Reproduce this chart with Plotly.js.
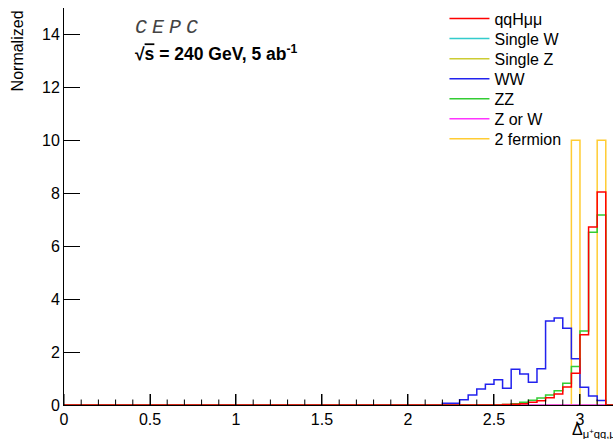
<!DOCTYPE html>
<html>
<head>
<meta charset="utf-8">
<script src="https://cdn.plot.ly/plotly-3.0.1.min.js"></script>
<style>html,body{margin:0;padding:0;background:#fff;overflow:hidden}</style>
</head>
<body>
<div id="chart" style="width:613px;height:439px"></div>
<script>
// Histogram bins: 64 bins of width 0.05 from 0 to 3.2
const binWidth = 0.05;
const seriesNames = ["qqHμμ", "Single W", "Single Z", "WW", "ZZ", "Z or W", "2 fermion"];

const qqHmumu = [0,0,0,0,0,0,0,0,0,0, 0,0,0,0,0,0,0,0,0,0, 0,0,0,0,0,0,0,0,0,0,
  0,0,0,0,0,0,0,0,0,0, 0,0,0,0,0,0,0,0,0,0, 0,0.02,0.03,0.05,0.1,0.16,0.27,0.42,0.68,1.2,
  2.65,6.73,8.05,0];
const singleW = [0,0,0,0,0,0,0,0,0,0, 0,0,0,0,0,0,0,0,0,0, 0,0,0,0,0,0,0,0,0,0,
  0,0,0,0,0,0,0,0,0,0, 0,0,0,0,0,0,0,0,0,0, 0,0,0,0,0,0,0,0,0,0, 0,0,0,0];
const singleZ = [0,0,0,0,0,0,0,0,0,0, 0,0,0,0,0,0,0,0,0,0, 0,0,0,0,0,0,0,0,0,0,
  0,0,0,0,0,0,0,0,0,0, 0,0,0,0,0,0,0,0,0,0, 0,0,0,0,0,0,0,0,0,0, 0,0,0,0];
const WW = [0,0,0,0,0,0,0,0,0,0, 0,0,0,0,0,0,0,0,0,0, 0,0,0,0,0,0,0,0,0,0,
  0,0,0,0,0,0,0,0,0,0, 0,0,0,0,0.07,0.07,0.2,0.38,0.6,0.78, 0.95,0.63,1.35,1.17,0.86,1.37,3.17,3.29,2.9,1.75,
  0.67,0.34,0.17,0];
const ZZ = [0,0,0,0,0,0,0,0,0,0, 0,0,0,0,0,0,0,0,0,0, 0,0,0,0,0,0,0,0,0,0,
  0,0,0,0,0,0,0,0,0,0, 0,0,0,0,0,0,0,0,0,0, 0,0.02,0.05,0.1,0.18,0.26,0.38,0.54,0.82,1.45,
  2.8,6.53,7.18,0];
const ZorW = [0,0,0,0,0,0,0,0,0,0, 0,0,0,0,0,0,0,0,0,0, 0,0,0,0,0,0,0,0,0,0,
  0,0,0,0,0,0,0,0,0,0, 0,0,0,0,0,0,0,0,0,0, 0,0,0,0,0,0,0,0,0,0, 0,0,0,0];
const twoFermion = [0,0,0,0,0,0,0,0,0,0, 0,0,0,0,0,0,0,0,0,0, 0,0,0,0,0,0,0,0,0,0,
  0,0,0,0,0,0,0,0,0,0, 0,0,0,0,0,0,0,0,0,0, 0,0,0,0,0,0,0,0,0,10,
  0,0,10,0];

const xTickVals = [0, 0.5, 1, 1.5, 2, 2.5, 3];
const xTickText = ["0", "0.5", "1", "1.5", "2", "2.5", "3"];
const xMinorTickVals = [0.1, 0.2, 0.3, 0.4, 0.6, 0.7, 0.8, 0.9, 1.1, 1.2, 1.3, 1.4, 1.6, 1.7, 1.8, 1.9,
  2.1, 2.2, 2.3, 2.4, 2.6, 2.7, 2.8, 2.9, 3.1];
const yTickVals = [0, 2, 4, 6, 8, 10, 12, 14];
const yTickText = ["0", "2", "4", "6", "8", "10", "12", "14"];

const xRange = [0, 3.192];
const yRange = [0, 15];

const legendFont = {family: "Liberation Sans, Arial, sans-serif", size: 16, color: "#000"};
const legendRowTop = 1.016;
const legendRowStep = 0.0505;

function stepTrace(vals, name, color, row) {
  const x = [], y = [];
  for (let i = 0; i < vals.length; i++) { x.push(i * binWidth); y.push(vals[i]); }
  x.push(vals.length * binWidth); y.push(vals[vals.length - 1]);
  return {
    type: "scatter", mode: "lines", x: x, y: y, name: name,
    line: {shape: "hv", color: color, width: 1.5},
    legend: row === 0 ? "legend" : "legend" + (row + 1),
    hoverinfo: "skip"
  };
}

const traces = [
  stepTrace(twoFermion, seriesNames[6], "#ffcc33", 6),
  stepTrace(singleW, seriesNames[1], "#33cccc", 1),
  stepTrace(singleZ, seriesNames[2], "#cccc33", 2),
  stepTrace(ZorW, seriesNames[5], "#ff33ff", 5),
  stepTrace(WW, seriesNames[3], "#2222ee", 3),
  stepTrace(ZZ, seriesNames[4], "#33cc33", 4),
  stepTrace(qqHmumu, seriesNames[0], "#ff0000", 0)
];

const font = {family: "Liberation Sans, Arial, sans-serif", size: 16, color: "#000"};

// x-axis tick marks (inside, pointing up) built from the tick arrays
const plotHeightPx = 397;
const tickShapes = [];
xTickVals.forEach(v => tickShapes.push({type: "line", xref: "x", yref: "paper", x0: v, x1: v,
  y0: 0, y1: 11 / plotHeightPx, line: {color: "#000", width: 1}, layer: "above"}));
xMinorTickVals.forEach(v => tickShapes.push({type: "line", xref: "x", yref: "paper", x0: v, x1: v,
  y0: 0, y1: 5.5 / plotHeightPx, line: {color: "#000", width: 1}, layer: "above"}));

const layout = {
  width: 613, height: 439,
  margin: {l: 64, r: 0, t: 8, b: 34},
  paper_bgcolor: "#fff", plot_bgcolor: "#fff",
  font: font,
  showlegend: true,
  xaxis: {
    range: xRange, tickmode: "array", tickvals: xTickVals, ticktext: xTickText,
    ticks: "inside", ticklen: 11, tickcolor: "#000", tickwidth: 1,
    showline: true, linecolor: "#000", linewidth: 1,
    showgrid: false, zeroline: false, tickfont: font
  },
  yaxis: {
    range: yRange, tickmode: "array", tickvals: yTickVals, ticktext: yTickText,
    ticks: "inside", ticklen: 16, tickcolor: "#000", tickwidth: 1,
    showline: true, linecolor: "#000", linewidth: 1,
    showgrid: false, zeroline: false, tickfont: font
  },
  xaxis3: {
    overlaying: "x", anchor: "y", side: "top", range: xRange,
    ticks: "", showticklabels: false, showline: true, linecolor: "#000", linewidth: 1,
    showgrid: false, zeroline: false
  },
  yaxis2: {
    overlaying: "y", anchor: "x", side: "left", range: yRange,
    tickmode: "linear", tick0: 0, dtick: 0.5,
    ticks: "inside", ticklen: 8, tickcolor: "#000", tickwidth: 1,
    showticklabels: false, showline: false, showgrid: false, zeroline: false
  },
  shapes: tickShapes,
  annotations: [
    {text: "<i><span style='letter-spacing:5px'>CEPC</span></i>", xref: "paper", yref: "paper", x: 0.1257, y: 0.952,
     xanchor: "left", yanchor: "middle", showarrow: false,
     font: {family: "Liberation Mono, Courier New, monospace", size: 20, color: "#444"}},
    {text: "<b>√<span style='text-decoration:overline'>s</span> = 240 GeV, 5 ab<sup>-1</sup></b>",
     xref: "paper", yref: "paper", x: 0.1257, y: 0.8866,
     xanchor: "left", yanchor: "middle", showarrow: false,
     font: {family: "Liberation Sans, Arial, sans-serif", size: 17.5, color: "#000"}},
    {text: "Normalized", xref: "paper", yref: "paper", x: -0.084, y: 1.0,
     xanchor: "center", yanchor: "top", textangle: -90, showarrow: false,
     font: font},
    {text: "Δ<sub>μ<sup>+</sup>qq,μ<sup>-</sup>qq</sub>", xref: "paper", yref: "paper",
     x: 0.922, y: -0.063, xanchor: "left", yanchor: "middle", showarrow: false,
     font: font}
  ]
};

for (let r = 0; r < 7; r++) {
  const key = r === 0 ? "legend" : "legend" + (r + 1);
  layout[key] = {
    x: 0.693, y: legendRowTop - r * legendRowStep, xanchor: "left", yanchor: "top",
    bgcolor: "rgba(0,0,0,0)", borderwidth: 0, font: legendFont, itemwidth: 40,
    tracegroupgap: 0
  };
}

Plotly.newPlot("chart", traces, layout, {displayModeBar: false, staticPlot: true});
</script>
</body>
</html>
